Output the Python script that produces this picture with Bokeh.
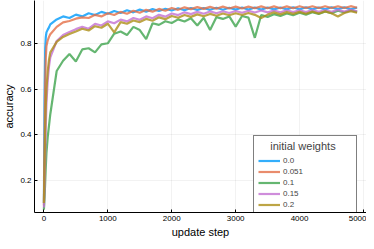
from bokeh.plotting import figure
from bokeh.models import Range1d, Legend, LegendItem
from bokeh.embed import file_html
from bokeh.resources import INLINE

steps = [0, 10, 20, 30, 40, 60, 80] + list(range(100, 5000, 100))

acc_0 = [0.10, 0.55, 0.78, 0.83, 0.85, 0.862, 0.872,
         0.885, 0.907, 0.920, 0.913, 0.928, 0.920, 0.934, 0.926, 0.940, 0.932,
         0.944, 0.935, 0.947, 0.938, 0.950, 0.941, 0.952, 0.944, 0.954, 0.946,
         0.956, 0.947, 0.957, 0.948, 0.957, 0.949, 0.958, 0.949, 0.958, 0.950,
         0.959, 0.950, 0.959, 0.950, 0.959, 0.951, 0.959, 0.951, 0.960, 0.951,
         0.960, 0.951, 0.959, 0.951, 0.960, 0.952, 0.960, 0.951, 0.959]
acc_0051 = [0.09, 0.35, 0.62, 0.74, 0.79, 0.815, 0.83,
            0.842, 0.874, 0.894, 0.900, 0.910, 0.916, 0.913, 0.927, 0.920, 0.934,
            0.926, 0.940, 0.932, 0.945, 0.936, 0.949, 0.941, 0.953, 0.945, 0.957,
            0.949, 0.960, 0.952, 0.961, 0.953, 0.962, 0.954, 0.963, 0.955, 0.963,
            0.955, 0.963, 0.956, 0.964, 0.956, 0.964, 0.956, 0.964, 0.956, 0.965,
            0.957, 0.965, 0.957, 0.965, 0.957, 0.965, 0.957, 0.965, 0.958]
acc_01 = [0.07, 0.12, 0.19, 0.26, 0.32, 0.39, 0.44,
          0.49, 0.68, 0.725, 0.755, 0.722, 0.775, 0.780, 0.762, 0.797, 0.802,
          0.844, 0.854, 0.838, 0.874, 0.860, 0.820, 0.890, 0.883, 0.899, 0.891,
          0.907, 0.898, 0.912, 0.880, 0.914, 0.860, 0.917, 0.909, 0.920, 0.875,
          0.922, 0.915, 0.826, 0.926, 0.918, 0.930, 0.922, 0.933, 0.925, 0.936,
          0.928, 0.939, 0.931, 0.942, 0.934, 0.945, 0.937, 0.947, 0.940]
acc_015 = [0.08, 0.16, 0.30, 0.44, 0.54, 0.64, 0.70,
           0.74, 0.812, 0.838, 0.852, 0.864, 0.874, 0.866, 0.887, 0.880, 0.898,
           0.890, 0.906, 0.898, 0.913, 0.905, 0.920, 0.912, 0.927, 0.919, 0.933,
           0.926, 0.938, 0.930, 0.940, 0.932, 0.942, 0.934, 0.943, 0.935, 0.944,
           0.936, 0.945, 0.937, 0.946, 0.938, 0.946, 0.938, 0.947, 0.939, 0.947,
           0.939, 0.948, 0.940, 0.948, 0.940, 0.949, 0.941, 0.949, 0.942]
acc_02 = [0.10, 0.25, 0.42, 0.53, 0.60, 0.68, 0.73,
          0.762, 0.808, 0.830, 0.843, 0.854, 0.866, 0.858, 0.877, 0.870, 0.888,
          0.850, 0.895, 0.888, 0.902, 0.895, 0.909, 0.901, 0.916, 0.908, 0.922,
          0.914, 0.926, 0.918, 0.929, 0.921, 0.931, 0.923, 0.933, 0.925, 0.934,
          0.926, 0.935, 0.927, 0.913, 0.928, 0.938, 0.929, 0.939, 0.931, 0.940,
          0.932, 0.941, 0.933, 0.942, 0.934, 0.920, 0.935, 0.943, 0.936]

labels = ["0.0", "0.051", "0.1", "0.15", "0.2"]
series = [acc_0, acc_0051, acc_01, acc_015, acc_02]
colors = ["#009AFA", "#E36F47", "#3EA44E", "#C371D2", "#AC8E18"]

x_ticks = [0, 1000, 2000, 3000, 4000, 5000]
y_ticks = [0.2, 0.4, 0.6, 0.8]

FONT = "Liberation Sans"

p = figure(frame_width=332, frame_height=212, x_range=Range1d(-147, 5047), y_range=Range1d(0.058, 0.99),
           output_backend="svg", toolbar_location=None,
           min_border_top=0, min_border_right=0, min_border_left=0, min_border_bottom=0)
p.outline_line_color = None
p.background_fill_color = "white"

items = []
for lab, ys, c in zip(labels, series, colors):
    r = p.line(steps, ys, line_color=c, line_width=2.2, line_alpha=0.8)
    items.append(LegendItem(label=lab, renderers=[r]))

for ax in (p.xaxis[0], p.yaxis[0]):
    ax.major_tick_in = 3
    ax.major_tick_out = 0
    ax.minor_tick_line_color = None
    ax.axis_line_color = "black"
    ax.major_tick_line_color = "black"
    ax.major_label_text_font = FONT
    ax.major_label_text_font_size = "8px"
    ax.major_label_text_color = "black"
    ax.axis_label_text_font = FONT
    ax.axis_label_text_font_size = "11px"
    ax.axis_label_text_font_style = "normal"
    ax.axis_label_text_color = "black"
    ax.major_label_standoff = 3
    ax.axis_label_standoff = 2
    ax.major_label_text_line_height = 1.0
    ax.axis_label_text_line_height = 1.0

p.xaxis.ticker = x_ticks
p.yaxis.ticker = y_ticks
p.xaxis.axis_label = "update step"
p.yaxis.axis_label = "accuracy"

p.grid.grid_line_color = "black"
p.grid.grid_line_alpha = 0.1
p.grid.grid_line_width = 0.5

legend = Legend(items=items, location=(219, -3), title="\u00a0\u00a0\u00a0\u00a0initial weights")
legend.title_text_font = FONT
legend.title_text_font_size = "11px"
legend.title_text_font_style = "normal"
legend.label_text_font = FONT
legend.label_text_font_size = "8px"
legend.glyph_width = 22
legend.glyph_height = 11
legend.label_height = 11
legend.label_width = 69
legend.label_standoff = 3
legend.spacing = 0
legend.padding = 4
legend.margin = 0
legend.title_standoff = 3
legend.border_line_color = "black"
legend.border_line_width = 1
legend.background_fill_alpha = 1
p.add_layout(legend, "center")

open("out.html", "w").write(file_html(p, INLINE))
